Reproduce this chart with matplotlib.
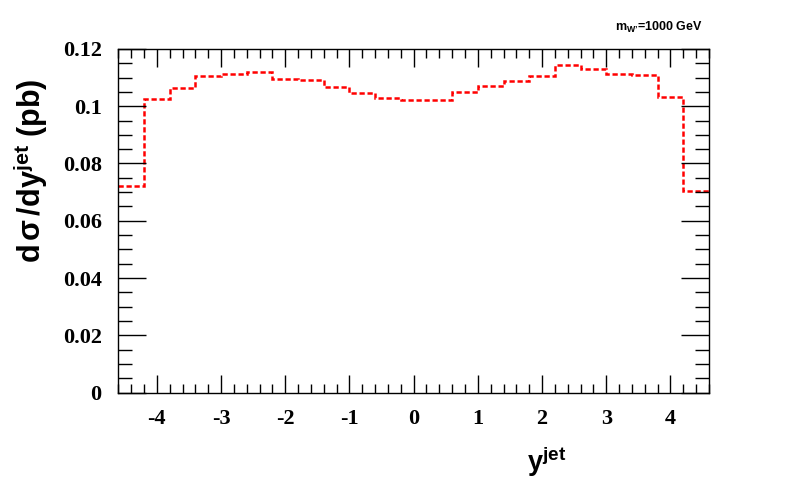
import matplotlib
matplotlib.use("Agg")
import matplotlib.pyplot as plt
from matplotlib.ticker import MultipleLocator, FuncFormatter

plt.rcParams['axes.unicode_minus'] = False
plt.rcParams['mathtext.fontset'] = 'custom'
plt.rcParams['mathtext.rm'] = 'Liberation Sans'
plt.rcParams['mathtext.bf'] = 'Liberation Sans:bold'
plt.rcParams['mathtext.it'] = 'Liberation Sans:italic'

# Data
bin_edges = [-4.6, -4.2, -3.8, -3.4, -3.0, -2.6, -2.2, -1.8, -1.4, -1.0, -0.6, -0.2,
             0.2, 0.6, 1.0, 1.4, 1.8, 2.2, 2.6, 3.0, 3.4, 3.8, 4.2, 4.6]
dsigma_dy = [0.0722, 0.1026, 0.1064, 0.1106, 0.1111, 0.1118, 0.1096, 0.1090,
             0.1066, 0.1045, 0.1029, 0.1022, 0.1023, 0.1048, 0.1069, 0.1088,
             0.1105, 0.1143, 0.1129, 0.1112, 0.1110, 0.1032, 0.0704]

fig = plt.figure(figsize=(7.88, 4.92), dpi=100)
ax = fig.add_axes([118.3 / 788, 1 - 392.7 / 492, (709.0 - 118.3) / 788, (392.7 - 48.9) / 492])

ax.stairs(dsigma_dy, bin_edges, baseline=None, color='#ff0000', linewidth=1.8,
          linestyle=(0, (2.1, 1.1)))

ax.set_xlim(-4.6, 4.6)
ax.set_ylim(0, 0.12)

ax.xaxis.set_major_locator(MultipleLocator(1))
ax.xaxis.set_minor_locator(MultipleLocator(0.2))
ax.yaxis.set_major_locator(MultipleLocator(0.02))
ax.yaxis.set_minor_locator(MultipleLocator(0.005))
ax.yaxis.set_major_formatter(FuncFormatter(lambda v, p: '%g' % round(v, 4)))
ax.xaxis.set_major_formatter(FuncFormatter(lambda v, p: '%g' % round(v, 4)))

ax.tick_params(axis='both', which='both', direction='in', top=True, right=True,
               color='black', width=1.0)
ax.tick_params(axis='x', which='major', length=13, pad=12.0)
ax.tick_params(axis='x', which='minor', length=6.5)
ax.tick_params(axis='y', which='major', length=20, pad=12)
ax.tick_params(axis='y', which='minor', length=10)

for lab in ax.get_xticklabels() + ax.get_yticklabels():
    lab.set_fontfamily('Liberation Serif')
    lab.set_fontweight('bold')
    lab.set_fontsize(16)

for s in ax.spines.values():
    s.set_linewidth(1.0)
    s.set_color('black')

fig.text(41 / 788, 1 - 78 / 492, 'd$\\,$\u03c3$\\,$/dy$^{\\mathbf{jet}}$ (pb)',
         rotation=90, rotation_mode='anchor', ha='right', va='baseline',
         fontfamily='Liberation Sans', fontweight='bold', fontsize=22)

fig.text(566 / 788, 1 - 471 / 492, r'y$^{\mathbf{jet}}$',
         ha='right', va='baseline',
         fontfamily='Liberation Sans', fontweight='bold', fontsize=19.5)

fig.text(703 / 788, 1 - 31 / 492, 'm$_{\\mathbf{W\u2019}}$=1000 GeV',
         ha='right', va='baseline',
         fontfamily='Liberation Sans', fontweight='bold', fontsize=9)

fig.savefig('out.png', dpi=100, facecolor='white')
